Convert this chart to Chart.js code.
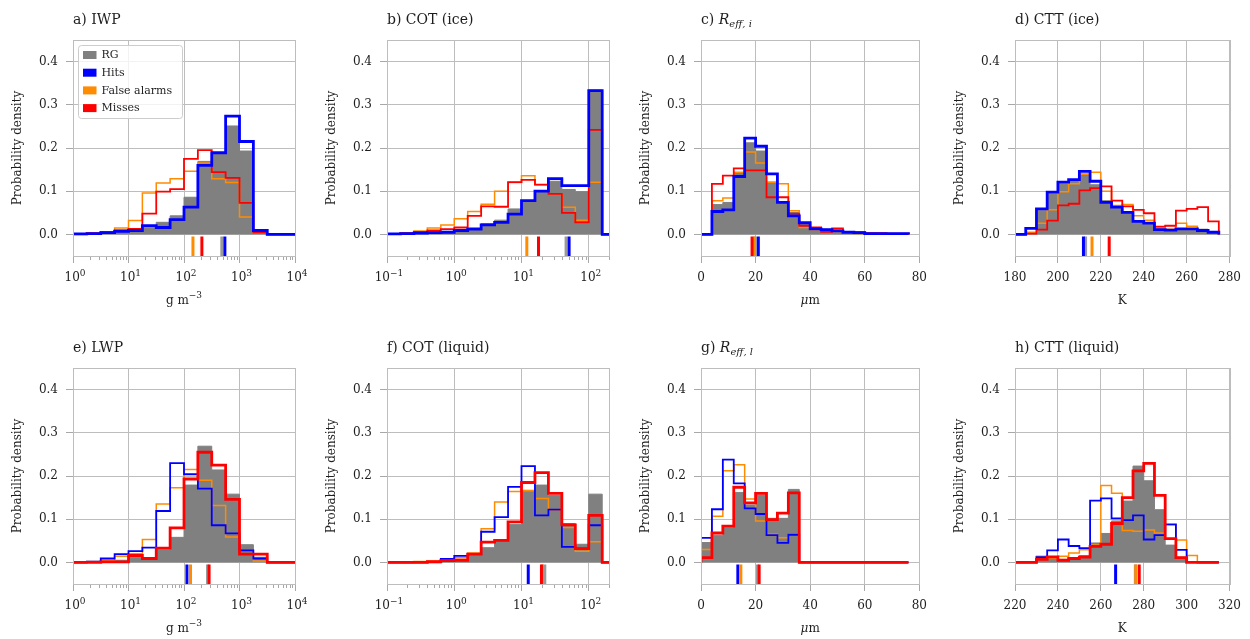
<!DOCTYPE html>
<html>
<head>
<meta charset="utf-8">
<script src="https://cdn.jsdelivr.net/npm/chart.js@4.4.1/dist/chart.umd.min.js"></script>
<style>
  html, body { margin: 0; padding: 0; background: #fff; overflow: hidden; }
  body { width: 1250px; height: 639px; position: relative; }
  canvas { position: absolute; }
</style>
</head>
<body>
<script>
// ---- bin edges ----
const wpEdges = [1, 1.778, 3.162, 5.623, 10, 17.78, 31.62, 56.23, 100, 177.8, 316.2, 562.3, 1000, 1778, 3162, 5623, 10000];
const cotEdges = [0.1, 0.1585, 0.2512, 0.3981, 0.631, 1, 1.585, 2.512, 3.981, 6.31, 10, 15.85, 25.12, 39.81, 63.1, 100, 158.5, 251.2];
const reffEdges = [0, 4, 8, 12, 16, 20, 24, 28, 32, 36, 40, 44, 48, 52, 56, 60, 64, 68, 72, 76];
const cttIceEdges = [180, 185, 190, 195, 200, 205, 210, 215, 220, 225, 230, 235, 240, 245, 250, 255, 260, 265, 270, 275];
const cttLiqEdges = [220, 225, 230, 235, 240, 245, 250, 255, 260, 265, 270, 275, 280, 285, 290, 295, 300, 305, 310, 315];

// ---- series (probability density per bin) ----
const seriesNames = ['RG', 'Hits', 'False alarms', 'Misses'];

const iwpRG   = [0.002, 0.003, 0.005, 0.008, 0.01, 0.015, 0.028, 0.043, 0.086, 0.169, 0.187, 0.251, 0.193, 0.006, 0, 0];
const iwpHits = [0.001, 0.002, 0.004, 0.007, 0.009, 0.02, 0.016, 0.034, 0.063, 0.16, 0.189, 0.274, 0.215, 0.009, 0, 0];
const iwpFA   = [0, 0.002, 0.006, 0.015, 0.032, 0.096, 0.119, 0.129, 0.146, 0.165, 0.129, 0.12, 0.04, 0.003, 0, 0];
const iwpMiss = [0.001, 0.003, 0.005, 0.01, 0.013, 0.048, 0.099, 0.105, 0.175, 0.195, 0.144, 0.131, 0.073, 0.004, 0, 0];

const cotiRG   = [0.002, 0.003, 0.004, 0.005, 0.007, 0.01, 0.015, 0.025, 0.033, 0.059, 0.078, 0.099, 0.123, 0.104, 0.099, 0.334, 0];
const cotiHits = [0.001, 0.002, 0.003, 0.004, 0.005, 0.009, 0.012, 0.022, 0.028, 0.047, 0.078, 0.1, 0.129, 0.113, 0.113, 0.333, 0];
const cotiFA   = [0.001, 0.003, 0.008, 0.015, 0.022, 0.036, 0.053, 0.07, 0.1, 0.12, 0.136, 0.115, 0.094, 0.063, 0.033, 0.121, 0];
const cotiMiss = [0.001, 0.003, 0.006, 0.009, 0.012, 0.016, 0.043, 0.065, 0.064, 0.121, 0.126, 0.115, 0.094, 0.05, 0.028, 0.242, 0];

const reffiRG   = [0, 0.069, 0.074, 0.142, 0.212, 0.193, 0.121, 0.072, 0.051, 0.024, 0.011, 0.012, 0.01, 0.006, 0.005, 0.003, 0.002, 0.002, 0.002];
const reffiHits = [0, 0.053, 0.057, 0.134, 0.223, 0.204, 0.14, 0.074, 0.043, 0.027, 0.013, 0.011, 0.008, 0.005, 0.004, 0.002, 0.002, 0.002, 0.002];
const reffiFA   = [0, 0.078, 0.084, 0.144, 0.191, 0.165, 0.121, 0.117, 0.055, 0.016, 0.011, 0.01, 0.007, 0.003, 0.002, 0.002, 0.002, 0.001, 0.001];
const reffiMiss = [0, 0.117, 0.136, 0.153, 0.148, 0.148, 0.086, 0.086, 0.048, 0.02, 0.016, 0.006, 0.014, 0.006, 0.005, 0.003, 0.003, 0.002, 0.002];

const cttiRG   = [0, 0.004, 0.055, 0.094, 0.117, 0.125, 0.14, 0.115, 0.078, 0.063, 0.051, 0.032, 0.024, 0.012, 0.011, 0.011, 0.01, 0.012, 0.005];
const cttiHits = [0, 0.014, 0.059, 0.098, 0.121, 0.127, 0.146, 0.123, 0.074, 0.063, 0.051, 0.03, 0.026, 0.011, 0.01, 0.013, 0.013, 0.009, 0.005];
const cttiFA   = [0, 0.005, 0.026, 0.057, 0.099, 0.117, 0.139, 0.144, 0.1, 0.067, 0.069, 0.043, 0.033, 0.015, 0.012, 0.026, 0.019, 0.01, 0.004];
const cttiMiss = [0, 0.002, 0.011, 0.032, 0.067, 0.071, 0.102, 0.107, 0.111, 0.078, 0.065, 0.057, 0.049, 0.018, 0.02, 0.055, 0.059, 0.063, 0.03];

const lwpRG   = [0, 0.001, 0.002, 0.005, 0.012, 0.007, 0.029, 0.058, 0.179, 0.269, 0.214, 0.158, 0.041, 0.012, 0, 0];
const lwpHits = [0, 0.002, 0.009, 0.019, 0.026, 0.034, 0.119, 0.23, 0.204, 0.171, 0.086, 0.067, 0.028, 0.009, 0, 0];
const lwpFA   = [0, 0.002, 0.005, 0.014, 0.02, 0.053, 0.135, 0.173, 0.215, 0.19, 0.132, 0.059, 0.019, 0.003, 0, 0];
const lwpMiss = [0, 0, 0.001, 0.001, 0.016, 0.009, 0.033, 0.08, 0.193, 0.255, 0.225, 0.146, 0.019, 0.019, 0, 0];

const cotlRG   = [0, 0.001, 0.001, 0.002, 0.003, 0.006, 0.018, 0.034, 0.051, 0.088, 0.167, 0.179, 0.155, 0.09, 0.042, 0.158, 0];
const cotlHits = [0, 0, 0, 0, 0.008, 0.015, 0.019, 0.071, 0.105, 0.175, 0.223, 0.109, 0.122, 0.036, 0.032, 0.086, 0];
const cotlFA   = [0, 0, 0.002, 0.003, 0.007, 0.011, 0.022, 0.078, 0.14, 0.164, 0.166, 0.148, 0.121, 0.081, 0.026, 0.048, 0];
const cotlMiss = [0, 0, 0, 0.002, 0.004, 0.005, 0.019, 0.047, 0.051, 0.094, 0.185, 0.208, 0.16, 0.087, 0.032, 0.109, 0];

const refflRG   = [0.046, 0.063, 0.08, 0.162, 0.133, 0.156, 0.102, 0.102, 0.169, 0, 0, 0, 0, 0, 0, 0, 0, 0, 0];
const refflHits = [0.057, 0.123, 0.238, 0.183, 0.125, 0.112, 0.063, 0.045, 0.064, 0, 0, 0, 0, 0, 0, 0, 0, 0, 0];
const refflFA   = [0.03, 0.107, 0.212, 0.226, 0.147, 0.096, 0.065, 0.057, 0.065, 0, 0, 0, 0, 0, 0, 0, 0, 0, 0];
const refflMiss = [0.011, 0.068, 0.084, 0.174, 0.138, 0.16, 0.099, 0.114, 0.161, 0, 0, 0, 0, 0, 0, 0, 0, 0, 0];

const cttlRG   = [0, 0, 0.007, 0.01, 0.007, 0.009, 0.016, 0.045, 0.067, 0.096, 0.142, 0.223, 0.189, 0.122, 0.04, 0.012, 0.001, 0, 0];
const cttlHits = [0, 0, 0.012, 0.028, 0.053, 0.038, 0.033, 0.143, 0.148, 0.102, 0.098, 0.109, 0.053, 0.063, 0.088, 0.029, 0.001, 0, 0];
const cttlFA   = [0, 0, 0.014, 0.01, 0.014, 0.022, 0.029, 0.04, 0.178, 0.16, 0.074, 0.072, 0.075, 0.068, 0.087, 0.052, 0.016, 0, 0];
const cttlMiss = [0, 0, 0.007, 0.013, 0.005, 0.009, 0.012, 0.037, 0.042, 0.09, 0.15, 0.212, 0.229, 0.155, 0.055, 0.011, 0, 0, 0];

// medians [RG, Hits, False alarms, Misses]
const iwpMed   = [480, 545, 145, 210];
const cotiMed  = [46, 51, 12, 17.9];
const reffiMed = [19.9, 21, 19.6, 18.7];
const cttiMed  = [212.9, 211.9, 215.9, 223.9];
const lwpMed   = [265, 113, 131, 283];
const cotlMed  = [22.2, 12.6, 20.5, 19.8];
const refflMed = [20.7, 13.5, 14.6, 21.3];
const cttlMed  = [276.1, 266.9, 276.3, 277.9];

// ---- axis ticks ----
const yTicks = [0, 0.1, 0.2, 0.3, 0.4];
const wpTicks = [1, 10, 100, 1000, 10000];
const wpTickExps = ['0', '1', '2', '3', '4'];
const cotTicks = [0.1, 1, 10, 100];
const cotTickExps = ['\u22121', '0', '1', '2'];
const reffTicks = [0, 20, 40, 60, 80];
const cttIceTicks = [180, 200, 220, 240, 260, 280];
const cttLiqTicks = [220, 240, 260, 280, 300, 320];

// ---- axis labels (text pieces, sup = superscript, it = italic) ----
const wpLabel = [{ t: 'g m' }, { t: '\u22123', sup: true }];
const reffLabel = [{ t: '\u03bc', it: true }, { t: 'm' }];
const cttLabel = [{ t: 'K' }];

// ---- style ----
const COLORS = ['#808080', '#0000ff', '#ff8c00', '#ff0000'];
const MED_COLORS = ['#9a9a9a', '#0000ff', '#ff8c00', '#ff0000'];
const GRID = '#bdbdbd';
const TICK = '#a8a8a8';
const TEXT = '#1e1e1e';
const FONT = "'DejaVu Serif', serif";

Chart.defaults.font.family = FONT;
Chart.defaults.font.size = 12;
Chart.defaults.color = TEXT;

function stepPoints(edges, vals) {
  const pts = [{ x: edges[0], y: 0 }];
  vals.forEach((v, i) => pts.push({ x: edges[i], y: v }));
  pts.push({ x: edges[vals.length], y: 0 });
  return pts;
}

function makeDatasets(edges, vals, meds, liquid) {
  const thick = 2.8, mid = 1.8;
  const ds = [
    { label: 'RG', data: stepPoints(edges, vals[0]), stepped: true, fill: 'origin',
      backgroundColor: COLORS[0], borderColor: COLORS[0], borderWidth: 1, order: 20 },
    { label: 'False alarms', data: stepPoints(edges, vals[2]), stepped: true, fill: false,
      borderColor: COLORS[2], borderWidth: 1.5, order: 18 },
    { label: 'Misses', data: stepPoints(edges, vals[3]), stepped: true, fill: false,
      borderColor: COLORS[3], borderWidth: liquid ? thick : mid, order: liquid ? 15 : 17 },
    { label: 'Hits', data: stepPoints(edges, vals[1]), stepped: true, fill: false,
      borderColor: COLORS[1], borderWidth: liquid ? mid : thick, order: liquid ? 17 : 15 }
  ];
  meds.forEach((m, i) => {
    ds.push({ label: seriesNames[i] + ' median', data: [{ x: m, y: -0.005 }, { x: m, y: -0.05 }],
      borderColor: MED_COLORS[i], borderWidth: 3, borderCapStyle: 'butt', fill: false, order: 10 - i });
  });
  return ds;
}

function logAxis(min, max, majors) {
  const ticks = [];
  majors.forEach(m => {
    ticks.push({ value: m, major: true });
    for (let k = 2; k <= 9; k++) if (m * k <= max) ticks.push({ value: m * k, major: false });
  });
  return {
    type: 'logarithmic', min, max,
    afterBuildTicks: s => { s.ticks = ticks.map(t => ({ ...t })); },
    // labels are drawn by panelDecor so the exponents can be real superscripts
    ticks: { autoSkip: false, maxRotation: 0, minRotation: 0, padding: 8, callback: () => '' },
    grid: { color: c => (c.tick && c.tick.major ? GRID : 'rgba(0,0,0,0)'),
      tickColor: c => (c.tick && c.tick.major ? TICK : 'rgba(0,0,0,0)'), tickLength: 7 },
    border: { display: false },
    afterFit: s => { s.height = 54; }
  };
}

function linAxis(ticksList) {
  return {
    type: 'linear', min: ticksList[0], max: ticksList[ticksList.length - 1],
    afterBuildTicks: s => { s.ticks = ticksList.map(v => ({ value: v, major: true })); },
    ticks: { autoSkip: false, maxRotation: 0, padding: 8, color: TEXT, callback: v => String(v) },
    grid: { color: GRID, tickColor: TICK, tickLength: 7 },
    border: { display: false },
    afterFit: s => { s.height = 54; }
  };
}

// draws text pieces centred on cx, vertically middle at cy
function drawPieces(ctx, pieces, cx, cy, size) {
  const subSize = Math.round(size * 0.72);
  const fontOf = p => (p.it ? 'italic ' : '') + ((p.sup || p.sub) ? subSize : size) + 'px ' + FONT;
  let total = 0;
  pieces.forEach(p => { ctx.font = fontOf(p); total += ctx.measureText(p.t).width; });
  let x = cx - total / 2;
  ctx.textAlign = 'left';
  ctx.textBaseline = 'middle';
  pieces.forEach(p => {
    ctx.font = fontOf(p);
    const dy = p.sup ? -size * 0.42 : (p.sub ? size * 0.25 : 0);
    ctx.fillText(p.t, x, cy + dy);
    x += ctx.measureText(p.t).width;
  });
}

const panelDecor = {
  id: 'panelDecor',
  afterDraw(chart, args, opts) {
    const { ctx, chartArea: a } = chart;
    const xs = chart.scales.x;
    ctx.save();
    // minor ticks on log axes
    ctx.strokeStyle = TICK;
    ctx.lineWidth = 1;
    xs.ticks.forEach(t => {
      if (t.major) return;
      const px = Math.round(xs.getPixelForValue(t.value)) + 0.5;
      ctx.beginPath();
      ctx.moveTo(px, a.bottom);
      ctx.lineTo(px, a.bottom + 4);
      ctx.stroke();
    });
    // axes frame
    ctx.strokeStyle = GRID;
    ctx.strokeRect(Math.round(a.left) + 0.5, Math.round(a.top) + 0.5,
      Math.round(a.right - a.left), Math.round(a.bottom - a.top));
    ctx.fillStyle = TEXT;
    // log tick labels 10^n
    if (opts.logTicks) {
      opts.logTicks.forEach((v, i) => {
        drawPieces(ctx, [{ t: '10' }, { t: opts.logExps[i], sup: true }],
          xs.getPixelForValue(v) + 2, a.bottom + 22.2, 12);
      });
    }
    // x axis label
    if (opts.xlabel) drawPieces(ctx, opts.xlabel, (a.left + a.right) / 2, a.bottom + 45, 12);
    // panel title
    let x = a.left;
    const base = a.top - 16;
    ctx.textAlign = 'left';
    ctx.textBaseline = 'alphabetic';
    opts.title.forEach(p => {
      ctx.font = (p.it ? 'italic ' : '') + (p.sub ? '10px ' : '14px ') + FONT;
      ctx.fillText(p.t, x, base + (p.sub ? 3 : 0));
      x += ctx.measureText(p.t).width;
    });
    // legend (first panel only)
    if (opts.legend) {
      const lx = Math.round(a.left) + 5.5, ly = Math.round(a.top) + 5.5, w = 104, h = 73;
      ctx.fillStyle = 'rgba(255,255,255,0.8)';
      ctx.strokeStyle = '#cccccc';
      ctx.beginPath();
      if (ctx.roundRect) ctx.roundRect(lx, ly, w, h, 3); else ctx.rect(lx, ly, w, h);
      ctx.fill();
      ctx.stroke();
      ctx.font = '11px ' + FONT;
      ctx.textBaseline = 'middle';
      seriesNames.forEach((n, i) => {
        const cy = ly + 9.5 + i * 17.7;
        ctx.fillStyle = COLORS[i];
        ctx.fillRect(lx + 4.5, cy - 4, 13.5, 8);
        ctx.fillStyle = TEXT;
        ctx.fillText(n, lx + 23, cy + 0.5);
      });
    }
    ctx.restore();
  }
};

const panels = [
  { col: 0, row: 0, title: [{ t: 'a) IWP' }], legend: true, liquid: false,
    edges: wpEdges, vals: [iwpRG, iwpHits, iwpFA, iwpMiss], med: iwpMed,
    x: logAxis(1, 10000, wpTicks), logTicks: wpTicks, logExps: wpTickExps, xlabel: wpLabel },
  { col: 1, row: 0, title: [{ t: 'b) COT (ice)' }], liquid: false,
    edges: cotEdges, vals: [cotiRG, cotiHits, cotiFA, cotiMiss], med: cotiMed,
    x: logAxis(0.1, 200, cotTicks), logTicks: cotTicks, logExps: cotTickExps, xlabel: null },
  { col: 2, row: 0, title: [{ t: 'c) ' }, { t: 'R', it: true }, { t: 'eff, i', it: true, sub: true }], liquid: false,
    edges: reffEdges, vals: [reffiRG, reffiHits, reffiFA, reffiMiss], med: reffiMed,
    x: linAxis(reffTicks), xlabel: reffLabel },
  { col: 3, row: 0, title: [{ t: 'd) CTT (ice)' }], liquid: false,
    edges: cttIceEdges, vals: [cttiRG, cttiHits, cttiFA, cttiMiss], med: cttiMed,
    x: linAxis(cttIceTicks), xlabel: cttLabel },
  { col: 0, row: 1, title: [{ t: 'e) LWP' }], liquid: true,
    edges: wpEdges, vals: [lwpRG, lwpHits, lwpFA, lwpMiss], med: lwpMed,
    x: logAxis(1, 10000, wpTicks), logTicks: wpTicks, logExps: wpTickExps, xlabel: wpLabel },
  { col: 1, row: 1, title: [{ t: 'f) COT (liquid)' }], liquid: true,
    edges: cotEdges, vals: [cotlRG, cotlHits, cotlFA, cotlMiss], med: cotlMed,
    x: logAxis(0.1, 200, cotTicks), logTicks: cotTicks, logExps: cotTickExps, xlabel: null },
  { col: 2, row: 1, title: [{ t: 'g) ' }, { t: 'R', it: true }, { t: 'eff, l', it: true, sub: true }], liquid: true,
    edges: reffEdges, vals: [refflRG, refflHits, refflFA, refflMiss], med: refflMed,
    x: linAxis(reffTicks), xlabel: reffLabel },
  { col: 3, row: 1, title: [{ t: 'h) CTT (liquid)' }], liquid: true,
    edges: cttLiqEdges, vals: [cttlRG, cttlHits, cttlFA, cttlMiss], med: cttlMed,
    x: linAxis(cttLiqTicks), xlabel: cttLabel }
];

const plotLeft = [73, 387, 701, 1015];
const plotTop = [40, 368];

panels.forEach(p => {
  const c = document.createElement('canvas');
  c.width = 306;
  c.height = 310;
  c.style.left = (plotLeft[p.col] - 72) + 'px';
  c.style.top = (plotTop[p.row] - 40) + 'px';
  document.body.appendChild(c);

  new Chart(c, {
    type: 'line',
    data: { datasets: makeDatasets(p.edges, p.vals, p.med, p.liquid) },
    options: {
      responsive: false,
      devicePixelRatio: 1,
      animation: false,
      events: [],
      layout: { padding: { top: 40, right: 12, left: 0, bottom: 0 } },
      elements: { point: { radius: 0 }, line: { tension: 0 } },
      plugins: {
        legend: { display: false },
        tooltip: { enabled: false },
        panelDecor: { title: p.title, legend: !!p.legend, xlabel: p.xlabel,
          logTicks: p.logTicks, logExps: p.logExps }
      },
      scales: {
        x: p.x,
        y: {
          type: 'linear', min: -0.05, max: 0.45,
          afterBuildTicks: s => { s.ticks = yTicks.map(v => ({ value: v })); },
          ticks: { padding: 8, color: TEXT, callback: v => Number(v).toFixed(1) },
          grid: { color: GRID, tickColor: TICK, tickLength: 7 },
          border: { display: false },
          title: { display: true, text: 'Probability density', color: TEXT, font: { size: 12 },
            padding: { top: 10, bottom: 0 } },
          afterFit: s => { s.width = 72; }
        }
      }
    },
    plugins: [panelDecor]
  });
});
</script>
</body>
</html>
